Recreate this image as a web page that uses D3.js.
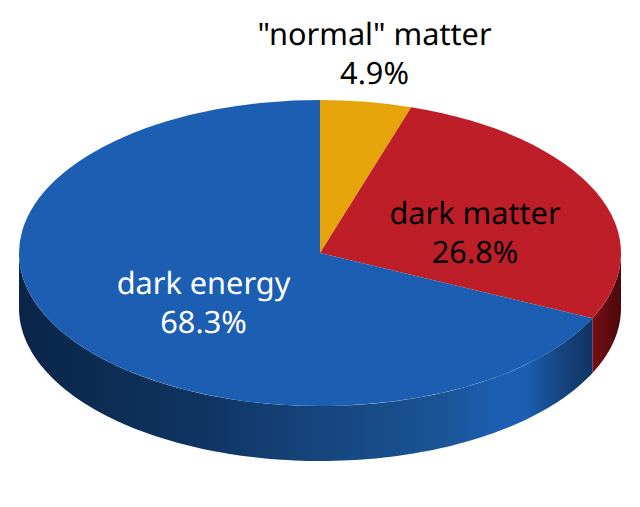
<!DOCTYPE html>
<html>
<head>
<meta charset="utf-8">
<script src="https://cdn.jsdelivr.net/npm/d3@7"></script>
<style>
  html, body { margin: 0; padding: 0; background: #fff; }
  svg { display: block; }
  text { font-family: "Noto Sans", sans-serif; font-size: 30.7px; text-anchor: middle; text-rendering: geometricPrecision; }
</style>
</head>
<body>
<div id="chart"></div>
<script>
const names = ['"normal" matter', "dark matter", "dark energy"];
const percentLabels = ["4.9%", "26.8%", "68.3%"];
// slice sizes; its red/blue edge sits slightly past the printed 26.8%
const slices = [4.9, 27.1, 68.0];
const topColors = ["#e5a50a", "#be1e28", "#1c5fb2"];

// shading along the side wall, left to right
const blueStops = [
  [0, "#0a2548"], [0.3, "#0f3462"], [0.5, "#16457d"], [0.7, "#1a5496"],
  [0.8, "#1c5fb2"], [0.84, "#1c5fb2"], [0.9, "#164580"], [0.953, "#0f3462"]
];
const redStops = [[0.95, "#7a0f15"], [1, "#4a090d"]];

const width = 640, height = 507;
const rx = 301, ry = 153, depth = 55;
const cx = 320, cy = 253;

const svg = d3.select("#chart").append("svg")
  .attr("width", width)
  .attr("height", height)
  .attr("viewBox", [0, 0, width, height]);

const x = d3.scaleLinear().domain([-1, 1]).range([cx - rx, cx + rx]);
const y = d3.scaleLinear().domain([-1, 1]).range([cy - ry, cy + ry]);

const pie = d3.pie().sort(null)(slices);

const defs = svg.append("defs");

function addGradient(id, stops) {
  const grad = defs.append("linearGradient")
    .attr("id", id)
    .attr("gradientUnits", "userSpaceOnUse")
    .attr("x1", x(-1)).attr("x2", x(1))
    .attr("y1", 0).attr("y2", 0);
  stops.forEach(([o, c]) => grad.append("stop").attr("offset", o).attr("stop-color", c));
}
addGradient("side-blue", blueStops);
addGradient("side-red", redStops);

// side wall of a slice: only the part facing the viewer (90deg..270deg from the top)
function wall(a0, a1) {
  const from = Math.max(a0, Math.PI / 2), to = Math.min(a1, 3 * Math.PI / 2);
  const angles = d3.range(0, 121).map(i => from + (to - from) * i / 120);
  const line = d3.line();
  const upper = angles.map(a => [x(Math.sin(a)), y(-Math.cos(a))]);
  const lower = angles.slice().reverse().map(a => [x(Math.sin(a)), y(-Math.cos(a)) + depth]);
  return line(upper.concat(lower)) + "Z";
}

svg.append("path").attr("d", wall(pie[1].startAngle, pie[1].endAngle)).attr("fill", "url(#side-red)");
svg.append("path").attr("d", wall(pie[2].startAngle, pie[2].endAngle)).attr("fill", "url(#side-blue)");

const arc = d3.arc().innerRadius(0).outerRadius(rx);

svg.append("g")
  .attr("transform", `translate(${cx},${cy}) scale(1,${ry / rx})`)
  .selectAll("path")
  .data(pie)
  .join("path")
  .attr("d", arc)
  .attr("fill", (d, i) => topColors[i]);

// labels
const labelPos = [[374.5, 45], [475, 224], [203.5, 294]];
const labelFill = ["#000", "#000", "#fff"];
names.forEach((name, i) => {
  const t = svg.append("text").attr("fill", labelFill[i]);
  t.append("tspan").attr("x", labelPos[i][0]).attr("y", labelPos[i][1]).text(name);
  t.append("tspan").attr("x", labelPos[i][0]).attr("y", labelPos[i][1] + 38.5).text(percentLabels[i]);
});
</script>
</body>
</html>
